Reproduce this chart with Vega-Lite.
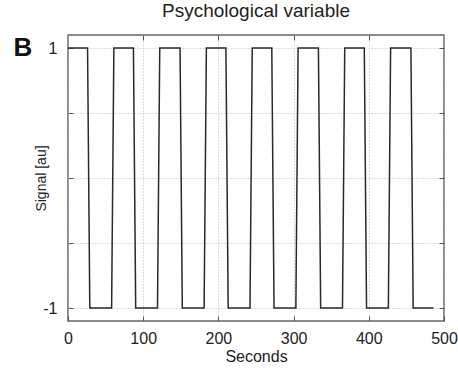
{
  "$schema": "https://vega.github.io/schema/vega-lite/v6.json",
  "width": 376,
  "height": 286,
  "autosize": "none",
  "padding": {"left": 68, "top": 35, "right": 14, "bottom": 47},
  "background": "white",
  "config": {
    "font": "Liberation Sans",
    "view": {"stroke": "#666", "strokeWidth": 1.5},
    "axis": {"domain": false, "labelColor": "#222", "titleColor": "#222", "labelFontSize": 16, "titleFontSize": 14, "titleFontWeight": "normal", "tickColor": "#555", "tickSize": -5, "gridColor": "#bbb", "gridDash": [1, 2], "gridWidth": 1, "labelFlush": false}
  },
  "title": {"text": "Psychological variable", "fontSize": 19, "fontWeight": "normal", "color": "#222", "anchor": "middle", "offset": 14},
  "data": {"values": [
    {"t": 0, "s": 1}, {"t": 26, "s": 1}, {"t": 29, "s": -1}, {"t": 58, "s": -1}, {"t": 61, "s": 1},
    {"t": 87, "s": 1}, {"t": 90, "s": -1}, {"t": 119, "s": -1}, {"t": 122, "s": 1},
    {"t": 149, "s": 1}, {"t": 152, "s": -1}, {"t": 181, "s": -1}, {"t": 184, "s": 1},
    {"t": 210, "s": 1}, {"t": 213, "s": -1}, {"t": 242, "s": -1}, {"t": 245, "s": 1},
    {"t": 271, "s": 1}, {"t": 274, "s": -1}, {"t": 303, "s": -1}, {"t": 306, "s": 1},
    {"t": 333, "s": 1}, {"t": 336, "s": -1}, {"t": 365, "s": -1}, {"t": 368, "s": 1},
    {"t": 394, "s": 1}, {"t": 397, "s": -1}, {"t": 426, "s": -1}, {"t": 429, "s": 1},
    {"t": 456, "s": 1}, {"t": 459, "s": -1}, {"t": 486, "s": -1}
  ]},
  "layer": [
    {
      "mark": {"type": "line", "color": "#2a2a2a", "strokeWidth": 1.5},
      "encoding": {
        "x": {"field": "t", "type": "quantitative", "scale": {"domain": [0, 500], "nice": false},
          "axis": {"orient": "bottom", "title": "Seconds", "titleFontSize": 16, "values": [0, 100, 200, 300, 400, 500], "labelPadding": 14, "titlePadding": 2, "grid": true, "gridDash": [1, 2]}},
        "y": {"field": "s", "type": "quantitative", "scale": {"domain": [-1.1, 1.1], "nice": false, "zero": false},
          "axis": {"orient": "left", "title": "Signal [au]", "values": [-1, -0.5, 0, 0.5, 1], "labelExpr": "datum.value == 1 ? '1' : datum.value == -1 ? '-1' : ''", "labelPadding": 16, "titlePadding": -6, "grid": true}}
      }
    },
    {
      "mark": {"type": "text", "text": "B", "fontSize": 26, "fontWeight": "bold", "color": "#111", "baseline": "middle", "align": "center", "clip": false},
      "data": {"values": [{"label": "B", "t": -60, "s": 1}]},
      "encoding": {
        "x": {"field": "t", "type": "quantitative", "axis": {"orient": "top", "title": null, "labels": false, "values": [100, 200, 300, 400], "grid": false}},
        "y": {"field": "s", "type": "quantitative", "axis": {"orient": "right", "title": null, "labels": false, "values": [-1, -0.5, 0, 0.5, 1], "grid": false}}
      }
    }
  ],
  "resolve": {"axis": {"x": "independent", "y": "independent"}}
}
